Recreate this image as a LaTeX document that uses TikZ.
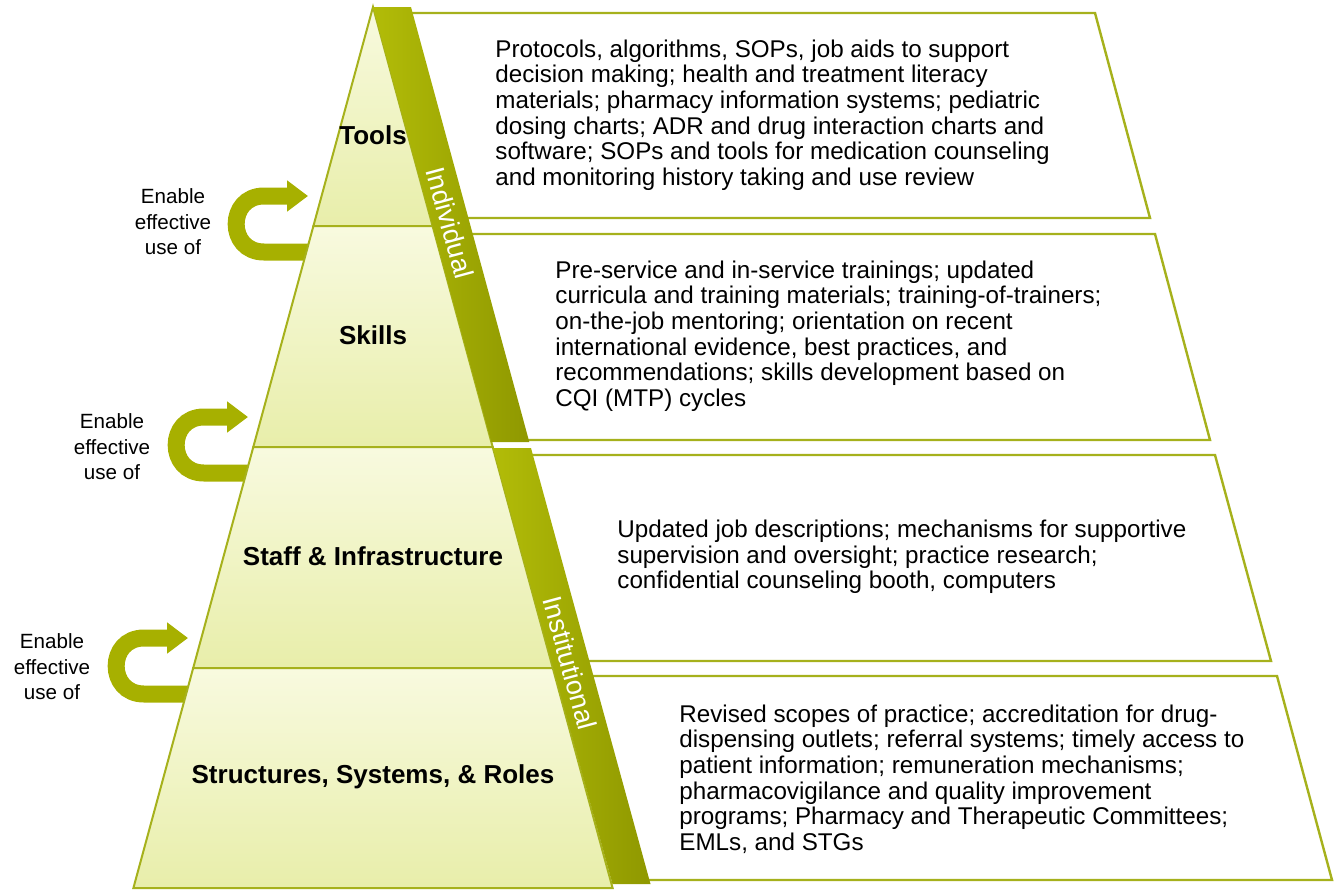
\documentclass[tikz,border=0pt]{standalone}
\usepackage{fontspec}
\setmainfont{Liberation Sans}
\usepackage{xcolor}
\usetikzlibrary{arrows.meta,positioning}
\definecolor{pyrline}{HTML}{A6B11C}
\definecolor{pyrtop}{HTML}{F8FADF}
\definecolor{pyrbot}{HTML}{E8EEAA}
\definecolor{bandlight}{HTML}{B2BC08}
\definecolor{banddark}{HTML}{8F9800}
\definecolor{arrowcol}{HTML}{A7B000}

\tikzset{
  tier/.style={top color=pyrtop, bottom color=pyrbot, draw=pyrline, line width=1pt},
  band/.style={left color=bandlight, right color=banddark, draw=none},
  infobox/.style={fill=white, draw=pyrline, line width=1.2pt},
  desc/.style={anchor=west, align=left, inner sep=0pt, font=\fontsize{12.1}{12.8}\selectfont},
  tierlabel/.style={font=\fontsize{13}{15}\selectfont\bfseries},
  bandlabel/.style={text=white, rotate=-74.8, font=\fontsize{13.5}{15}\selectfont},
  enablearrow/.style={draw=arrowcol, line width=8.5pt, -{Triangle[length=10.5pt,width=15pt]}},
  enabletext/.style={align=center, font=\fontsize{10.3}{12.8}\selectfont},
}

\begin{document}
\begin{tikzpicture}[x=0.5pt, y=-0.5pt]
\useasboundingbox (0,0) rectangle (1334,890);

% Description boxes
\filldraw[infobox] (385,13) -- (1095,13) -- (1150,218) -- (440,218) -- cycle;
\filldraw[infobox] (445,234) -- (1155,234) -- (1210,440) -- (501,440) -- cycle;
\filldraw[infobox] (505,455) -- (1215,455) -- (1271,661) -- (561,661) -- cycle;
\filldraw[infobox] (565,676) -- (1277,676) -- (1332,880) -- (620,880) -- cycle;

% Enable arrows (tails run under the pyramid)
\coordinate (tail1) at (312,252);
\coordinate (head1) at (308,196);
\draw[enablearrow] (tail1) -- (264,252) to[out=180, in=180, looseness=1.7] (264,196) -- (head1);
\coordinate (tail2) at (252,473);
\coordinate (head2) at (248,417);
\draw[enablearrow] (tail2) -- (204,473) to[out=180, in=180, looseness=1.7] (204,417) -- (head2);
\coordinate (tail3) at (192,694);
\coordinate (head3) at (188,638);
\draw[enablearrow] (tail3) -- (144,694) to[out=180, in=180, looseness=1.7] (144,638) -- (head3);

% Pyramid tiers
\path[tier] (373,7) -- (432.6,226) -- (313.4,226) -- cycle;
\path[tier] (313.4,226) -- (432.6,226) -- (492.7,447) -- (253.3,447) -- cycle;
\path[tier] (253.3,447) -- (492.7,447) -- (552.8,668) -- (193.2,668) -- cycle;
\path[tier] (193.2,668) -- (552.8,668) -- (612.6,888) -- (133.4,888) -- cycle;

% Side bands
\path[band] (373,7) -- (411,7) -- (529.3,442) -- (491.3,442) -- cycle;
\path[band] (493,448) -- (531,448) -- (650.5,884) -- (612.5,884) -- cycle;
\node[bandlabel] (individual) at (450,223) {Individual};
\node[bandlabel] (institutional) at (570,663) {Institutional};

% Tier labels
\node[tierlabel] (tools) at (373,135) {Tools};
\node[tierlabel] (skills) at (373,335) {Skills};
\node[tierlabel] (staff) at (373,556) {Staff \& Infrastructure};
\node[tierlabel] (structures) at (373,777) {Structures, Systems, \& Roles};

% Enable labels
\node[enabletext] (enable1) at (173,222) {Enable\\effective\\use of};
\node[enabletext] (enable2) at (112,447) {Enable\\effective\\use of};
\node[enabletext] (enable3) at (52,667) {Enable\\effective\\use of};

% Box texts
\node[desc] (toolstext) at (495,115) {Protocols, algorithms, SOPs, job aids to support\\
decision making; health and treatment literacy\\
materials; pharmacy information systems; pediatric\\
dosing charts; ADR and drug interaction charts and\\
software; SOPs and tools for medication counseling\\
and monitoring history taking and use review};
\node[desc] (skillstext) at (555,336) {Pre-service and in-service trainings; updated\\
curricula and training materials; training-of-trainers;\\
on-the-job mentoring; orientation on recent\\
international evidence, best practices, and\\
recommendations; skills development based on\\
CQI (MTP) cycles};
\node[desc] (stafftext) at (617,557) {Updated job descriptions; mechanisms for supportive\\
supervision and oversight; practice research;\\
confidential counseling booth, computers};
\node[desc] (structtext) at (679,779) {Revised scopes of practice; accreditation for drug-\\
dispensing outlets; referral systems; timely access to\\
patient information; remuneration mechanisms;\\
pharmacovigilance and quality improvement\\
programs; Pharmacy and Therapeutic Committees;\\
EMLs, and STGs};
\end{tikzpicture}
\end{document}
